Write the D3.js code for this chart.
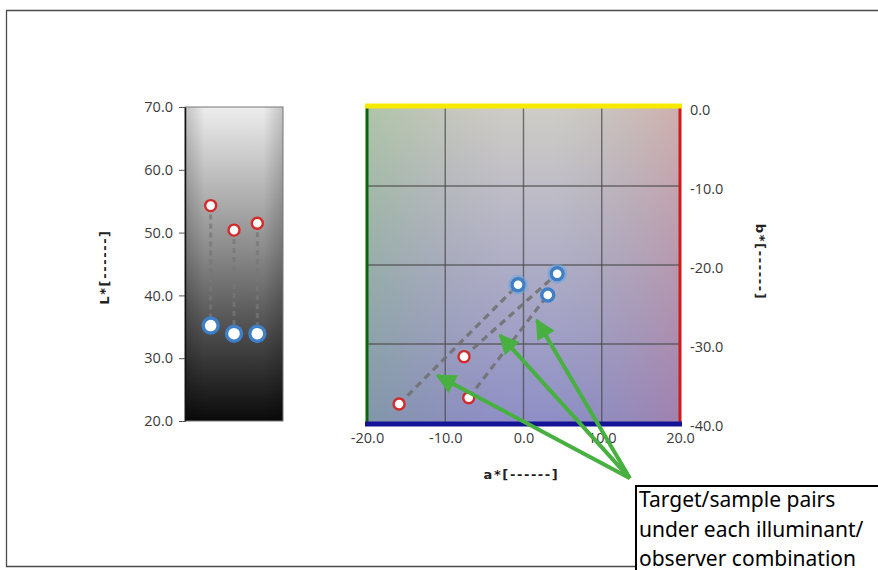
<!DOCTYPE html>
<html><head><meta charset="utf-8">
<script src="https://cdn.jsdelivr.net/npm/d3@7"></script>
<style>body{margin:0;background:#fff}svg{display:block}</style>
</head><body>
<svg id="c" width="878" height="570"></svg>
<script>
// ---- data ----
const combos = ["Pair 1", "Pair 2", "Pair 3"];
const targetL = [54.3, 50.4, 51.5];
const sampleL = [35.2, 33.9, 33.9];
const targetA = [-15.9, -7.6, -7.0];
const targetB = [-37.6, -31.6, -36.8];
const sampleA = [-0.7, 4.3, 3.1];
const sampleB = [-22.5, -21.1, -23.8];
const lTicks = [20, 30, 40, 50, 60, 70];
const aTicks = [-20, -10, 0, 10, 20];
const bTicks = [0, -10, -20, -30, -40];
const arrowTail = [13.6, -47.0];
const arrowTips = [[-11.0, -34.0], [-3.0, -28.9], [1.7, -27.0]];
const calloutLines = ["Target/sample pairs", "under each illuminant/", "observer combination"];

const svg = d3.select("#c");
const defs = svg.append("defs");
const fmt = d => d.toFixed(1);
const tickFont = "'Open Sans', 'DejaVu Sans', sans-serif";
const labelFont = "'DejaVu Sans', sans-serif";

// outer frame
svg.append("path").attr("d", "M878,10.5 H6.5 V566.5 H636")
  .attr("fill", "none").attr("stroke", "#4a4a4a").attr("stroke-width", 1.3);

// ---- Left L* chart ----
const lx0 = 185, lx1 = 283, ly0 = 107, ly1 = 421;
const yL = d3.scaleLinear().domain([20, 70]).range([ly1, ly0]);
const xL = d3.scalePoint().domain(combos).range([lx0, lx1]).padding(1.1);

const gL = defs.append("linearGradient").attr("id", "gL").attr("x1", 0).attr("y1", 0).attr("x2", 0).attr("y2", 1);
gL.append("stop").attr("offset", 0).attr("stop-color", "#ededed");
gL.append("stop").attr("offset", 0.45).attr("stop-color", "#8c8c8c");
gL.append("stop").attr("offset", 1).attr("stop-color", "#0a0a0a");
const gLh = defs.append("linearGradient").attr("id", "gLh").attr("x1", 0).attr("y1", 0).attr("x2", 1).attr("y2", 0);
gLh.append("stop").attr("offset", 0).attr("stop-color", "#000").attr("stop-opacity", 0.18);
gLh.append("stop").attr("offset", 0.2).attr("stop-color", "#000").attr("stop-opacity", 0);
gLh.append("stop").attr("offset", 0.8).attr("stop-color", "#000").attr("stop-opacity", 0);
gLh.append("stop").attr("offset", 1).attr("stop-color", "#000").attr("stop-opacity", 0.18);

svg.append("rect").attr("x", lx0).attr("y", ly0).attr("width", lx1 - lx0).attr("height", ly1 - ly0).attr("fill", "url(#gL)");
svg.append("rect").attr("x", lx0).attr("y", ly0).attr("width", lx1 - lx0).attr("height", ly1 - ly0).attr("fill", "url(#gLh)");
svg.append("rect").attr("x", lx0).attr("y", ly0).attr("width", lx1 - lx0).attr("height", ly1 - ly0)
  .attr("fill", "none").attr("stroke", "#777").attr("stroke-width", 1);

const axL = svg.append("g").attr("transform", `translate(${lx0},0)`)
  .call(d3.axisLeft(yL).tickValues(lTicks).tickFormat(fmt).tickSize(6).tickSizeOuter(0));
axL.select(".domain").attr("stroke", "#111").attr("stroke-width", 1.5);
axL.selectAll(".tick line").attr("stroke", "#555");
axL.selectAll("text").attr("font-family", tickFont).attr("font-size", 14.5).attr("fill", "#3a3a3a").attr("x", -12);

svg.append("text").attr("transform", `translate(109,267) rotate(-90)`)
  .attr("text-anchor", "middle").attr("font-family", labelFont).attr("font-weight", "bold")
  .attr("font-size", 13).attr("letter-spacing", 1.6).attr("fill", "#222").text("L*[------]");

// dashed pair lines
svg.append("g").selectAll("line").data(combos).join("line")
  .attr("x1", d => xL(d)).attr("x2", d => xL(d))
  .attr("y1", (d, i) => yL(targetL[i])).attr("y2", (d, i) => yL(sampleL[i]))
  .attr("stroke", "#777").attr("stroke-opacity", 0.75).attr("stroke-width", 3).attr("stroke-dasharray", "5,4");

function blueMarker(sel, r, halo) {
  if (halo) sel.append("circle").attr("r", r + 3).attr("fill", "none").attr("stroke", "#6aa8e0").attr("stroke-opacity", 0.6).attr("stroke-width", 2);
  sel.append("circle").attr("r", r).attr("fill", "#fff").attr("stroke", "#3f7fc8").attr("stroke-width", 3.4);
}
function redMarker(sel, r) {
  sel.append("circle").attr("r", r).attr("fill", "#fff").attr("stroke", "#d42a2a").attr("stroke-width", 2.4);
}

combos.forEach((c, i) => {
  blueMarker(svg.append("g").attr("transform", `translate(${xL(c)},${yL(sampleL[i])})`), 7.5, false);
  redMarker(svg.append("g").attr("transform", `translate(${xL(c)},${yL(targetL[i])})`), 5.5);
});

// ---- Right a*b* chart ----
const rx0 = 367, rx1 = 680, ry0 = 107, ry1 = 423;
const xA = d3.scaleLinear().domain([-20, 20]).range([rx0, rx1]);
const yB = d3.scaleLinear().domain([-40, 0]).range([ry1, ry0]);

const gV = defs.append("linearGradient").attr("id", "gV").attr("x1", 0).attr("y1", 0).attr("x2", 0).attr("y2", 1);
gV.append("stop").attr("offset", 0).attr("stop-color", "#cfcdc6");
gV.append("stop").attr("offset", 1).attr("stop-color", "#8e8ec6");
const gH = defs.append("linearGradient").attr("id", "gH").attr("x1", 0).attr("y1", 0).attr("x2", 1).attr("y2", 0);
gH.append("stop").attr("offset", 0).attr("stop-color", "#5ab05a").attr("stop-opacity", 0.28);
gH.append("stop").attr("offset", 0.45).attr("stop-color", "#888").attr("stop-opacity", 0);
gH.append("stop").attr("offset", 0.6).attr("stop-color", "#888").attr("stop-opacity", 0);
gH.append("stop").attr("offset", 1).attr("stop-color", "#d06070").attr("stop-opacity", 0.28);

svg.append("rect").attr("x", rx0).attr("y", ry0).attr("width", rx1 - rx0).attr("height", ry1 - ry0).attr("fill", "url(#gV)");
svg.append("rect").attr("x", rx0).attr("y", ry0).attr("width", rx1 - rx0).attr("height", ry1 - ry0).attr("fill", "url(#gH)");

// grid
svg.append("g").selectAll("line").data(aTicks.slice(1, -1)).join("line")
  .attr("x1", d => xA(d)).attr("x2", d => xA(d)).attr("y1", ry0).attr("y2", ry1)
  .attr("stroke", "#4a4a4a").attr("stroke-opacity", 0.75).attr("stroke-width", 1.4);
svg.append("g").selectAll("line").data(bTicks.slice(1, -1)).join("line")
  .attr("y1", d => yB(d)).attr("y2", d => yB(d)).attr("x1", rx0).attr("x2", rx1)
  .attr("stroke", "#4a4a4a").attr("stroke-opacity", 0.75).attr("stroke-width", 1.4);

// coloured borders
svg.append("line").attr("x1", rx0).attr("x2", rx0).attr("y1", ry0).attr("y2", ry1).attr("stroke", "#0b640b").attr("stroke-width", 3);
svg.append("line").attr("x1", rx1).attr("x2", rx1).attr("y1", ry0).attr("y2", ry1).attr("stroke", "#d21818").attr("stroke-width", 3);
svg.append("line").attr("x1", rx0 - 2).attr("x2", rx1 + 2).attr("y1", ry0 - 1).attr("y2", ry0 - 1).attr("stroke", "#f7ea00").attr("stroke-width", 5);
svg.append("line").attr("x1", rx0 - 2).attr("x2", rx1 + 2).attr("y1", ry1 + 1).attr("y2", ry1 + 1).attr("stroke", "#141496").attr("stroke-width", 5);

// axes
const axA = svg.append("g").attr("transform", `translate(0,${ry1 + 7})`)
  .call(d3.axisBottom(xA).tickValues(aTicks).tickFormat(fmt).tickSize(0));
axA.select(".domain").remove();
axA.selectAll("text").attr("font-family", tickFont).attr("font-size", 14.5).attr("fill", "#3a3a3a").attr("dy", "0.71em");

const axB = svg.append("g").attr("transform", `translate(${rx1 + 3},0)`)
  .call(d3.axisRight(yB).tickValues(bTicks).tickFormat(fmt).tickSize(0));
axB.select(".domain").remove();
axB.selectAll("text").attr("font-family", tickFont).attr("font-size", 14.5).attr("fill", "#3a3a3a").attr("x", 7).attr("dy", "0.5em");

svg.append("text").attr("x", (rx0 + rx1) / 2 - 2).attr("y", 479).attr("text-anchor", "middle")
  .attr("font-family", labelFont).attr("font-weight", "bold").attr("font-size", 13).attr("letter-spacing", 1.6).attr("fill", "#222").text("a*[------]");
svg.append("text").attr("transform", `translate(756,262) rotate(90)`).attr("text-anchor", "middle")
  .attr("font-family", labelFont).attr("font-weight", "bold").attr("font-size", 13).attr("letter-spacing", 1.6).attr("fill", "#222").text("b*[------]");

// pair lines
svg.append("g").selectAll("line").data(combos).join("line")
  .attr("x1", (d, i) => xA(targetA[i])).attr("y1", (d, i) => yB(targetB[i]))
  .attr("x2", (d, i) => xA(sampleA[i])).attr("y2", (d, i) => yB(sampleB[i]))
  .attr("stroke", "#6e6e6e").attr("stroke-opacity", 0.85).attr("stroke-width", 3.2).attr("stroke-dasharray", "7,5");

combos.forEach((c, i) => {
  blueMarker(svg.append("g").attr("transform", `translate(${xA(sampleA[i])},${yB(sampleB[i])})`), 6, i !== 2);
  redMarker(svg.append("g").attr("transform", `translate(${xA(targetA[i])},${yB(targetB[i])})`), 5.5);
});

// ---- annotation arrows ----
defs.append("marker").attr("id", "ah").attr("viewBox", "0 0 10 10").attr("refX", 9).attr("refY", 5)
  .attr("markerWidth", 5.5).attr("markerHeight", 5).attr("orient", "auto")
  .append("path").attr("d", "M0,0 L10,5 L0,10 Z").attr("fill", "#48b040");
svg.append("g").selectAll("line").data(arrowTips).join("line")
  .attr("x1", xA(arrowTail[0])).attr("y1", yB(arrowTail[1]))
  .attr("x2", d => xA(d[0])).attr("y2", d => yB(d[1]))
  .attr("stroke", "#48b040").attr("stroke-width", 4).attr("marker-end", "url(#ah)");

// ---- callout box ----
svg.append("rect").attr("x", 636).attr("y", 486).attr("width", 260).attr("height", 100)
  .attr("fill", "#fff").attr("stroke", "#000").attr("stroke-width", 2);
svg.append("g").selectAll("text").data(calloutLines).join("text")
  .attr("x", 639).attr("y", (d, i) => 507 + i * 29.5)
  .attr("font-family", "'Noto Sans', sans-serif").attr("font-size", 21).attr("fill", "#000").text(d => d);
</script>
</body></html>
